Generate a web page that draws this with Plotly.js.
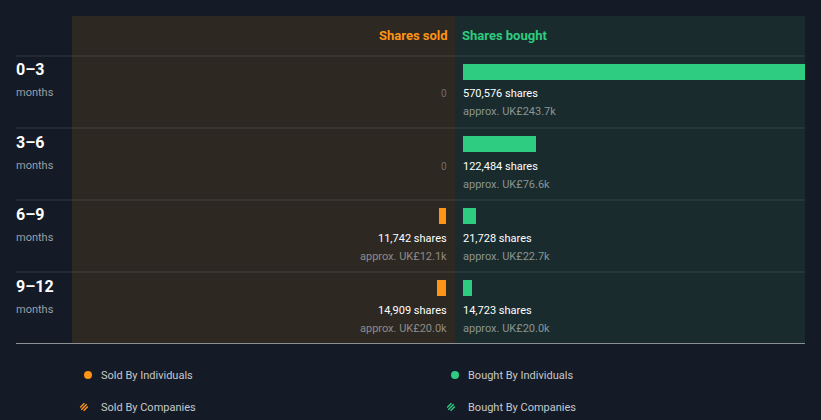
<!DOCTYPE html>
<html><head><meta charset="utf-8">
<script src="https://cdn.plot.ly/plotly-3.0.1.min.js"></script>
<style>html,body{margin:0;padding:0;background:#151b26;}#chart{width:821px;height:420px;}</style>
</head><body><div id="chart"></div>
<script>
// ---- data ----
const periods = ["0\u20133", "3\u20136", "6\u20139", "9\u201312"];
const periodUnit = "months";
const soldShares = [0, 0, 11742, 14909];
const soldValue = [null, null, "UK\u00a312.1k", "UK\u00a320.0k"];
const boughtShares = [570576, 122484, 21728, 14723];
const boughtValue = ["UK\u00a3243.7k", "UK\u00a376.6k", "UK\u00a322.7k", "UK\u00a320.0k"];
const headers = ["Shares sold", "Shares bought"];
const legendItems = ["Sold By Individuals", "Sold By Companies", "Bought By Individuals", "Bought By Companies"];

// ---- layout helpers ----
const W = 821, H = 420;
const px = v => v / W;
const py = v => 1 - v / H;
const ORANGE = "#ff9416", GREEN = "#2ecc80";
const rowIdx = periods.map((_, i) => i);
const maxVal = Math.max(...boughtShares, ...soldShares);
const fmt = n => n.toLocaleString("en-US");

const traces = [
  {type: "bar", orientation: "h", x: soldShares, y: rowIdx, xaxis: "x", yaxis: "y",
   width: 16 / 72, marker: {color: ORANGE}, hoverinfo: "skip", showlegend: false},
  {type: "bar", orientation: "h", x: boughtShares, y: rowIdx, xaxis: "x2", yaxis: "y",
   width: 16 / 72, marker: {color: GREEN}, hoverinfo: "skip", showlegend: false}
];

const shapes = [
  {type: "rect", xref: "paper", yref: "paper", x0: px(72), x1: px(455), y0: py(343), y1: py(16), fillcolor: "#2d2822", line: {width: 0}, layer: "below"},
  {type: "rect", xref: "paper", yref: "paper", x0: px(455), x1: px(805), y0: py(343), y1: py(16), fillcolor: "#192b2d", line: {width: 0}, layer: "below"}
];
[56, 128, 200, 272].forEach(y => shapes.push({type: "line", xref: "paper", yref: "paper", x0: px(16), x1: px(805), y0: py(y), y1: py(y), line: {color: "rgba(255,255,255,0.12)", width: 1}}));
shapes.push({type: "line", xref: "paper", yref: "paper", x0: px(16), x1: px(805), y0: py(343.5), y1: py(343.5), line: {color: "#8d9196", width: 1}});

const annotations = [];
const A = (o) => annotations.push(Object.assign({showarrow: false, font: {family: "Roboto", size: 11, color: "#ffffff"}}, o));
A({xref: "paper", yref: "paper", x: px(450), y: py(35), xanchor: "right", yanchor: "middle", text: "<b>" + headers[0] + "</b>", font: {family: "Roboto", size: 13, color: ORANGE}});
A({xref: "paper", yref: "paper", x: px(460), y: py(35), xanchor: "left", yanchor: "middle", text: "<b>" + headers[1] + "</b>", font: {family: "Roboto", size: 13, color: GREEN}});

periods.forEach((p, i) => {
  A({xref: "paper", yref: "y", x: px(14), y: i - 2 / 72, xanchor: "left", yanchor: "middle", text: "<b>" + p + "</b>", font: {family: "Roboto", size: 16, color: "#ffffff"}});
  A({xref: "paper", yref: "y", x: px(14), y: i + 21 / 72, xanchor: "left", yanchor: "middle", text: periodUnit, font: {family: "Roboto", size: 11, color: "#9a9ea4"}});
  if (soldShares[i] === 0) {
    A({xref: "paper", yref: "y", x: px(449), y: i + 22 / 72, xanchor: "right", yanchor: "middle", text: "0", font: {family: "Roboto", size: 10, color: "#6f6c68"}});
  } else {
    A({xref: "paper", yref: "y", x: px(449), y: i + 22 / 72, xanchor: "right", yanchor: "middle", text: fmt(soldShares[i]) + " shares"});
    A({xref: "paper", yref: "y", x: px(449), y: i + 40 / 72, xanchor: "right", yanchor: "middle", text: "approx. " + soldValue[i], font: {family: "Roboto", size: 11, color: "#8e8c89"}});
  }
  A({xref: "paper", yref: "y", x: px(461), y: i + 22 / 72, xanchor: "left", yanchor: "middle", text: fmt(boughtShares[i]) + " shares"});
  A({xref: "paper", yref: "y", x: px(461), y: i + 40 / 72, xanchor: "left", yanchor: "middle", text: "approx. " + boughtValue[i], font: {family: "Roboto", size: 11, color: "#8a9493"}});
});

// legend
const legPos = [[88, 375, ORANGE, false], [84, 407, ORANGE, true], [455, 375, GREEN, false], [451, 407, GREEN, true]];
const textX = [99, 99, 466, 466];
legendItems.forEach((t, k) => {
  const [cx, cy, col, hatch] = legPos[k];
  if (!hatch) {
    shapes.push({type: "circle", xref: "paper", yref: "paper", x0: px(cx - 4), x1: px(cx + 4), y0: py(cy + 4), y1: py(cy - 4), fillcolor: col, line: {width: 0}});
  } else {
    const r = 3.8, s2 = Math.SQRT1_2;
    [-2.4, 0, 2.4].forEach(d => {
      const h = Math.sqrt(r * r - d * d);
      const mx = cx + d * s2, my = cy + d * s2;
      shapes.push({type: "line", xref: "paper", yref: "paper",
        x0: px(mx - h * s2), y0: py(my + h * s2), x1: px(mx + h * s2), y1: py(my - h * s2),
        line: {color: col, width: 1.4}});
    });
  }
  A({xref: "paper", yref: "paper", x: px(textX[k]), y: py(cy), xanchor: "left", yanchor: "middle", text: t, font: {family: "Roboto", size: 11, color: "#c5c8cc"}});
});

const layout = {
  width: W, height: H,
  margin: {l: 0, r: 0, t: 0, b: 0},
  paper_bgcolor: "#151b26", plot_bgcolor: "rgba(0,0,0,0)",
  showlegend: false, bargap: 0,
  xaxis: {domain: [px(446 - 342), px(446)], range: [maxVal, 0], visible: false, fixedrange: true},
  xaxis2: {domain: [px(463), px(805)], range: [0, maxVal], visible: false, fixedrange: true},
  yaxis: {domain: [py(344), py(56)], range: [(344 - 72) / 72, -16 / 72], visible: false, fixedrange: true},
  shapes: shapes, annotations: annotations
};
Plotly.newPlot("chart", traces, layout, {displayModeBar: false, staticPlot: true});
</script></body></html>
